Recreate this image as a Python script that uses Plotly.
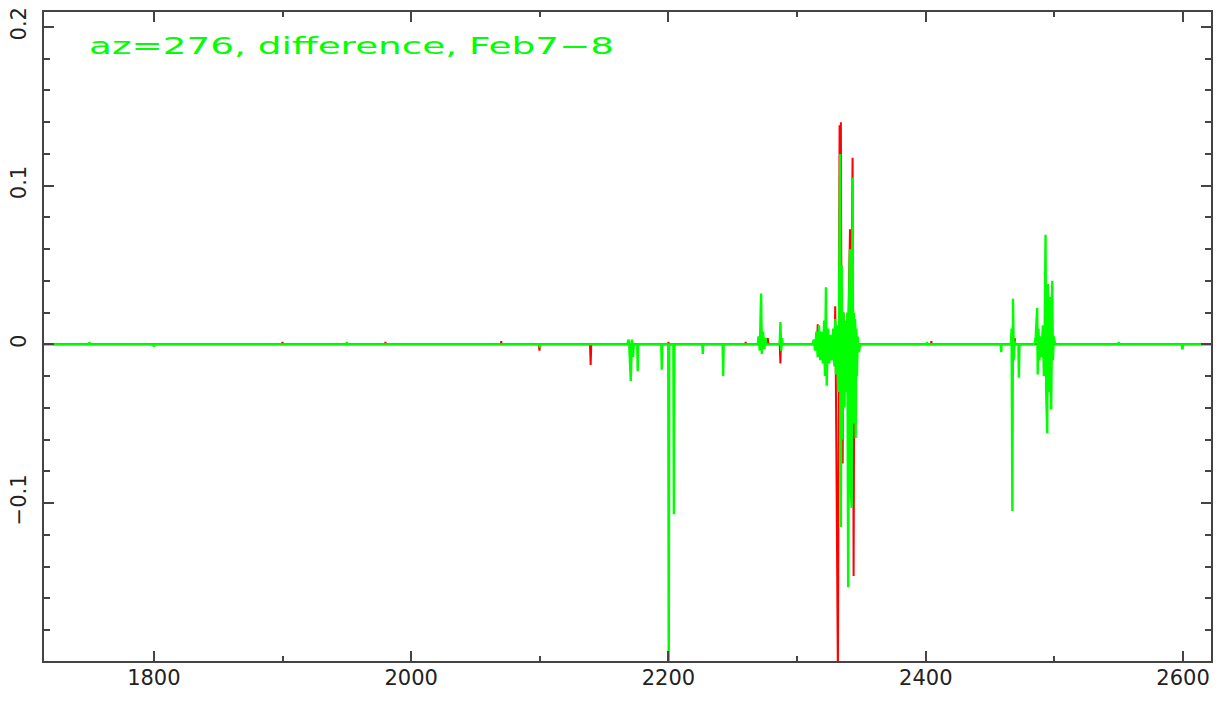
import plotly.graph_objects as go

# ---------------- data ----------------
title_text = "az=276, difference, Feb7\u22128"

x_range = [1714.6, 2621.7]
y_range = [-0.1995, 0.2094]

y_ticks = [-0.1, 0.0, 0.1, 0.2]
y_tick_labels = ["\u22120.1", "0", "0.1", "0.2"]
x_ticks = [1800, 2000, 2200, 2400, 2600]
x_tick_labels = ["1800", "2000", "2200", "2400", "2600"]

# red series (drawn first, mostly hidden behind green)
red_x = [1714.6,
         1899.7, 1900.0, 1900.3, 1979.7, 1980.0, 1980.3, 2069.7, 2070.0, 2070.3,
         2099.2, 2099.7, 2100.2, 2139.0, 2139.5, 2140.0,
         2199.7, 2200.0, 2200.3, 2259.7, 2260.0, 2260.3,
         2276.8, 2277.2, 2277.6, 2286.5, 2287.0, 2287.5, 2288.0,
         2315.5, 2316.0, 2316.5, 2317.0, 2329.2, 2329.6, 2330.0,
         2331.7, 2332.2, 2333.0, 2333.5, 2334.0, 2334.6, 2335.4, 2336.0,
         2338.0, 2340.0, 2341.1, 2341.6, 2343.1, 2343.9, 2344.5, 2346.0,
         2404.0, 2404.3, 2404.6, 2468.8, 2469.1, 2469.4,
         2494.5, 2494.8, 2495.1, 2599.0, 2599.4, 2599.8, 2621.7]
red_y = [0.0,
         0.0, 0.0015, 0.0, 0.0, 0.0015, 0.0, 0.0, 0.002, 0.0,
         0.0, -0.004, 0.0, 0.0, -0.013, 0.0,
         0.0, 0.0015, 0.0, 0.0, 0.0015, 0.0,
         0.0, 0.004, 0.0, 0.0, -0.012, 0.004, 0.0,
         0.0, 0.0127, -0.005, 0.0, 0.0, 0.024, -0.01,
         -0.21, -0.049, 0.138, -0.02, 0.140, -0.03, -0.075, 0.02,
         -0.03, 0.02, 0.0725, -0.02, 0.1175, -0.146, 0.01, 0.0,
         0.0, 0.002, 0.0, 0.0, 0.004, 0.0,
         0.0, 0.038, 0.0, 0.0, -0.003, 0.0, 0.0]

# green series (drawn on top)
green_x = [1714.6,
           1749.7, 1750.0, 1750.3, 1799.7, 1800.0, 1800.3, 1949.7, 1950.0, 1950.3,
           2099.7, 2100.0, 2100.3,
           2168.0, 2169.0, 2169.5, 2170.7, 2171.2, 2171.5, 2172.0, 2172.5, 2173.0,
           2175.7, 2176.1, 2176.5,
           2194.4, 2194.8, 2195.2, 2199.8, 2200.2, 2200.6, 2203.8, 2204.2, 2204.6,
           2226.3, 2226.7, 2227.1, 2242.1, 2242.5, 2242.9,
           2269.5, 2270.0, 2271.0, 2272.0, 2272.6, 2273.5, 2274.5, 2275.5, 2276.0,
           2286.3, 2286.6, 2287.0, 2287.6, 2288.3, 2288.8,
           2312.0, 2313.0, 2314.0, 2315.0, 2316.0, 2317.0, 2318.0, 2319.0, 2320.0,
           2321.0, 2321.6, 2322.4, 2323.0, 2324.0, 2325.0, 2326.0, 2327.0, 2328.0,
           2329.0, 2329.6, 2330.2, 2331.0, 2332.0, 2333.0, 2333.5, 2334.0, 2334.6,
           2335.2, 2336.0, 2336.8, 2337.5, 2338.2, 2339.0, 2339.7, 2340.4, 2341.1,
           2341.3, 2342.4, 2342.8, 2343.1, 2343.6, 2344.2, 2344.6, 2345.1, 2345.5,
           2346.0, 2346.5, 2347.0, 2348.0, 2349.0,
           2400.7, 2401.0, 2401.3, 2458.2, 2458.6, 2459.0,
           2466.2, 2466.7, 2467.3, 2467.8, 2468.4, 2469.1, 2469.6,
           2472.0, 2472.4, 2472.8,
           2484.5, 2485.5, 2486.6, 2487.0, 2487.6, 2488.3, 2489.0, 2490.0, 2491.0,
           2491.8, 2492.5, 2493.1, 2493.6, 2494.4, 2494.8, 2495.5, 2496.4, 2497.0,
           2497.5, 2498.3, 2498.8, 2499.5, 2500.5,
           2549.7, 2550.0, 2550.3, 2599.0, 2599.4, 2599.8, 2621.7]
green_y = [0.0,
           0.0, 0.0015, 0.0, 0.0, -0.0015, 0.0, 0.0, 0.0015, 0.0,
           0.0, -0.002, 0.0,
           0.0, 0.003, 0.0, -0.023, 0.0, 0.003, 0.0, -0.008, 0.0,
           0.0, -0.017, 0.0,
           0.0, -0.016, 0.0, 0.0, -0.21, 0.0, 0.0, -0.107, 0.0,
           0.0, -0.006, 0.0, 0.0, -0.02, 0.0,
           0.0, 0.005, -0.004, 0.032, -0.006, 0.008, -0.003, 0.004, 0.0,
           0.0, 0.003, 0.014, -0.004, 0.004, 0.0,
           0.0, 0.003, -0.004, 0.008, -0.008, 0.012, -0.01, 0.008, -0.012,
           0.015, -0.02, 0.036, -0.026, 0.01, -0.012, 0.006, -0.01, 0.01,
           -0.014, 0.016, -0.019, 0.012, -0.03, 0.06, 0.12, -0.115, 0.05,
           -0.06, 0.02, -0.04, 0.015, -0.03, 0.02, -0.153, 0.03, 0.06,
           -0.084, -0.103, 0.05, 0.105, -0.05, 0.02, -0.02, 0.016, -0.059,
           0.01, -0.02, 0.005, -0.005, 0.0,
           0.0, 0.0015, 0.0, 0.0, -0.005, 0.0,
           0.0, 0.01, -0.105, 0.0288, -0.01, 0.002, 0.0,
           0.0, -0.021, 0.0,
           0.0, 0.005, 0.023, -0.019, 0.01, -0.01, 0.005, -0.008, 0.012,
           -0.02, 0.015, 0.069, -0.03, -0.056, 0.038, -0.03, 0.03, -0.02,
           -0.041, 0.04, -0.01, 0.005, 0.0,
           0.0, 0.0015, 0.0, 0.0, -0.003, 0.0, 0.0]

# ---------------- figure ----------------
axis_color = "#444444"
tick_font = dict(family="DejaVu Sans", size=21, color="#222222")

fig = go.Figure()
fig.add_trace(go.Scatter(x=red_x, y=red_y, mode="lines",
                         line=dict(color="#ff0000", width=2), showlegend=False))
fig.add_trace(go.Scatter(x=green_x, y=green_y, mode="lines",
                         line=dict(color="#00ff00", width=2.4), showlegend=False))

fig.update_layout(
    width=1225, height=706,
    margin=dict(l=41, r=14, t=7, b=45, pad=0),
    paper_bgcolor="white", plot_bgcolor="white",
    showlegend=False,
    annotations=[dict(
        text=title_text, xref="paper", yref="paper",
        x=0.0413, y=0.947, xanchor="left", yanchor="middle",
        showarrow=False,
        font=dict(family="DejaVu Sans", size=23, color="#00ff00"),
    )],
)

fig.update_xaxes(
    range=x_range, tickmode="array", tickvals=x_ticks, ticktext=x_tick_labels,
    showgrid=False, zeroline=False,
    showline=True, linecolor=axis_color, linewidth=2, mirror="allticks",
    ticks="inside", ticklen=10, tickwidth=2, tickcolor=axis_color,
    tickfont=tick_font, ticklabelstandoff=-3,
    minor=dict(dtick=100, tick0=1800, ticks="inside", ticklen=5, tickwidth=1.5,
               tickcolor=axis_color, showgrid=False),
)
fig.update_yaxes(
    range=y_range, tickmode="array", tickvals=y_ticks, ticktext=y_tick_labels,
    showgrid=False, zeroline=False,
    showline=True, linecolor=axis_color, linewidth=2, mirror="allticks",
    ticks="inside", ticklen=10, tickwidth=2, tickcolor=axis_color,
    tickfont=tick_font, tickangle=-90, ticklabelstandoff=8,
    minor=dict(dtick=0.02, tick0=0, ticks="inside", ticklen=6, tickwidth=1.5,
               tickcolor=axis_color, showgrid=False),
)

post = """
var gd = document.getElementById('{plot_id}');
function stretchTitle(){
  var t = gd.querySelector('.annotation-text');
  if (!t || t.getAttribute('data-stretched') === '1') return;
  t.setAttribute('textLength', '525');
  t.setAttribute('lengthAdjust', 'spacingAndGlyphs');
  var r = t.getBoundingClientRect();
  var dx = 97 - r.left;
  var x0 = parseFloat(t.getAttribute('x') || '0');
  t.setAttribute('x', x0 + dx);
  t.setAttribute('data-stretched', '1');
}
stretchTitle();
if (gd.on) { gd.on('plotly_afterplot', stretchTitle); }
"""

fig.write_html("out.html", post_script=post)
